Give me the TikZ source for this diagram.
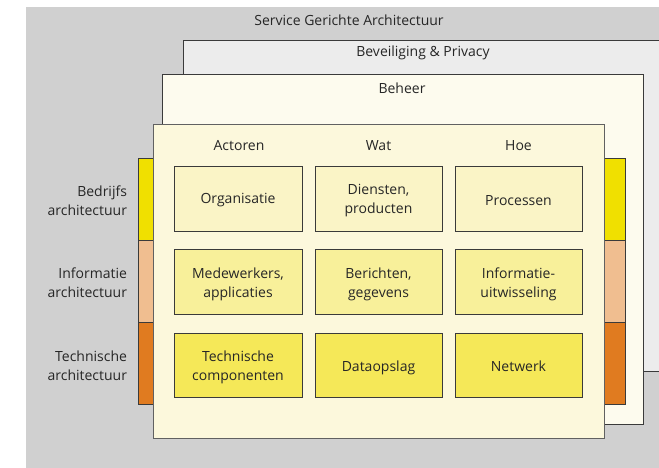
\documentclass[tikz,border=0pt]{standalone}
\usepackage{fontspec}
\setmainfont{Open Sans}
\definecolor{bggray}{HTML}{D0D0D0}
\definecolor{bevgray}{HTML}{ECECEC}
\definecolor{behcream}{HTML}{FDFBEE}
\definecolor{maincream}{HTML}{FCF8DC}
\definecolor{rowone}{HTML}{FAF4C6}
\definecolor{rowtwo}{HTML}{F8F09A}
\definecolor{rowthree}{HTML}{F5E858}
\definecolor{baryellow}{HTML}{F0E000}
\definecolor{barpeach}{HTML}{F0BE90}
\definecolor{barorange}{HTML}{E07B20}
\definecolor{txt}{HTML}{262626}
\definecolor{edge}{HTML}{3A3A3A}
\begin{document}
\begin{tikzpicture}[x=1pt,y=-1pt,
  every node/.style={inner sep=0pt,outer sep=0pt,text=txt,font=\fontsize{14}{19}\selectfont},
  layer/.style={draw=edge,line width=0.8pt},
  cell/.style={draw=edge,line width=0.8pt,minimum width=127pt,minimum height=65pt},
  celltext/.style={align=center},
  bar/.style={draw=edge,line width=0.7pt,minimum width=22pt,minimum height=82pt},
  lbl/.style={align=right,anchor=east}]
\useasboundingbox (0,0) rectangle (659,468);
\clip (0,0) rectangle (659,468);
% background
\node[fill=bggray,minimum width=633pt,minimum height=461pt] (bg) at (342.5,237.5) {};
\node (t1) at (349,20) {Service Gerichte Architectuur};
% Beveiliging & Privacy
\node[layer,fill=bevgray,minimum width=500pt,minimum height=331pt] (bev) at (433,205.5) {};
\node (t2) at (423,53) {Beveiliging \& Privacy};
% Beheer
\node[layer,fill=behcream,minimum width=481pt,minimum height=350pt] (beh) at (402.5,249) {};
\node (t3) at (402,88) {Beheer};
% side bars
\node[bar,fill=baryellow] (ly) at (149,199) {};
\node[bar,fill=barpeach] (lp) at (149,281) {};
\node[bar,fill=barorange] (lo) at (149,363) {};
\node[bar,fill=baryellow] (ry) at (614,199) {};
\node[bar,fill=barpeach] (rp) at (614,281) {};
\node[bar,fill=barorange] (ro) at (614,363) {};
% main
\node[draw=edge!80,line width=0.8pt,fill=maincream,minimum width=451pt,minimum height=314pt] (main) at (378.5,281) {};
% headers
\node (h1) at (239,146) {Actoren};
\node (h2) at (378.5,146) {Wat};
\node (h3) at (518.5,146) {Hoe};
% cells
\node[cell,fill=rowone,minimum width=128pt] (c11) at (238,198.5) {};
\node[cell,fill=rowone] (c12) at (378.5,198.5) {};
\node[cell,fill=rowone] (c13) at (518.5,198.5) {};
\node[cell,fill=rowtwo,minimum width=128pt] (c21) at (238,281.5) {};
\node[cell,fill=rowtwo] (c22) at (378.5,281.5) {};
\node[cell,fill=rowtwo] (c23) at (518.5,281.5) {};
\node[cell,fill=rowthree,minimum width=128pt,minimum height=64pt] (c31) at (238,365) {};
\node[cell,fill=rowthree,minimum height=64pt] (c32) at (378.5,365) {};
\node[cell,fill=rowthree,minimum height=64pt] (c33) at (518.5,365) {};
\node[celltext] (c11t) at ([yshift=-2pt]c11.center) {Organisatie};
\node[celltext] (c12t) at ([yshift=-2.5pt]c12.center) {Diensten,\\producten};
\node[celltext] (c13t) at ([yshift=-2pt]c13.center) {Processen};
\node[celltext] (c21t) at ([yshift=-2.5pt]c21.center) {Medewerkers,\\applicaties};
\node[celltext] (c22t) at ([yshift=-2.5pt]c22.center) {Berichten,\\gegevens};
\node[celltext] (c23t) at ([yshift=-2.5pt]c23.center) {Informatie-\\uitwisseling};
\node[celltext] (c31t) at ([yshift=-2.5pt]c31.center) {Technische\\componenten};
\node[celltext] (c32t) at ([yshift=-2.5pt]c32.center) {Dataopslag};
\node[celltext] (c33t) at ([yshift=-1.5pt]c33.center) {Netwerk};
% left labels
\node[lbl] (l1) at (127,201) {Bedrijfs\\architectuur};
\node[lbl] (l2) at (127,283) {Informatie\\architectuur};
\node[lbl] (l3) at (127,366) {Technische\\architectuur};
\end{tikzpicture}
\end{document}
